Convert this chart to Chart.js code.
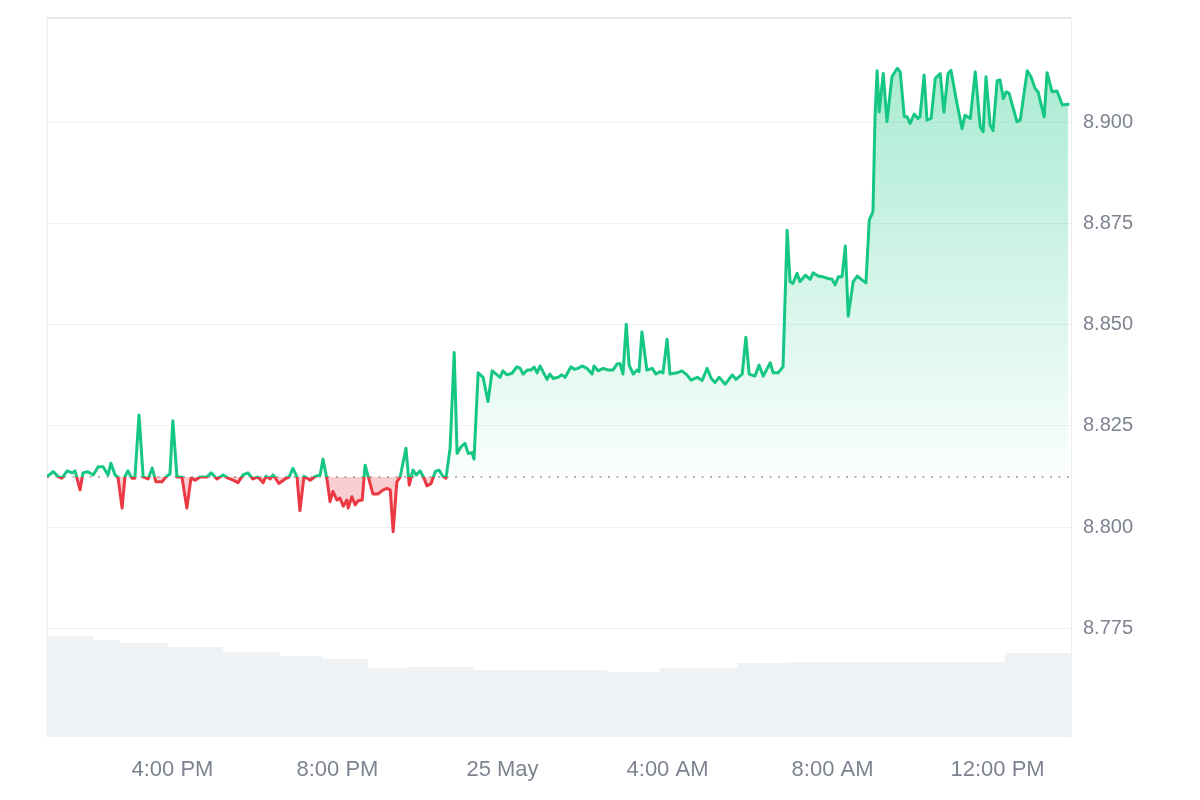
<!DOCTYPE html>
<html>
<head>
<meta charset="utf-8">
<script src="https://cdn.jsdelivr.net/npm/chart.js@4.4.1/dist/chart.umd.min.js"></script>
<style>
  html, body { margin: 0; padding: 0; background: #fff; }
  #wrap { width: 1200px; height: 800px; position: relative; }
</style>
</head>
<body>
<div id="wrap"><canvas id="priceChart"></canvas></div>
<script>
// hours since 24 May 00:00
const times = [
  12.98,13.11,13.23,13.32,13.45,13.57,13.64,13.76,13.83,13.95,14.08,14.20,14.32,14.44,14.51,14.61,14.68,14.78,14.85,14.92,
  15.02,15.09,15.19,15.29,15.41,15.51,15.60,15.75,15.84,15.94,16.01,16.11,16.23,16.35,16.45,16.55,16.67,16.84,16.94,17.08,
  17.23,17.35,17.47,17.59,17.71,17.83,17.95,18.07,18.20,18.27,18.37,18.44,18.58,18.73,18.83,18.92,19.02,19.09,19.19,19.34,
  19.46,19.58,19.65,19.75,19.82,19.89,19.99,20.06,20.14,20.23,20.26,20.35,20.43,20.50,20.60,20.67,20.79,20.86,20.98,21.11,
  21.20,21.28,21.35,21.44,21.52,21.66,21.74,21.83,21.91,22.00,22.08,22.17,22.27,22.37,22.46,22.56,22.63,
  22.73,22.83,22.90,23.00,23.09,23.17,23.26,23.31,23.41,23.53,23.65,23.75,23.87,23.94,24.01,24.11,24.23,24.35,24.43,24.50,
  24.60,24.69,24.77,24.84,24.91,25.08,25.15,25.23,25.35,25.44,25.52,25.66,25.74,25.83,25.93,26.05,26.17,26.22,26.32,26.44,
  26.56,26.68,26.78,26.85,26.92,27.00,27.07,27.17,27.26,27.31,27.38,27.50,27.63,27.72,27.82,27.89,27.99,28.06,28.23,28.35,
  28.47,28.57,28.72,28.84,28.96,29.06,29.15,29.25,29.40,29.57,29.66,29.81,29.90,29.98,30.12,30.22,30.32,30.49,30.56,30.68,30.80,
  30.90,30.97,31.04,31.14,31.21,31.34,31.46,31.53,31.65,31.77,31.89,31.99,32.06,32.14,32.23,32.31,32.38,32.50,32.60,32.72,
  32.81,32.89,32.98,33.03,33.08,33.13,33.23,33.32,33.44,33.57,33.64,33.74,33.81,33.88,33.98,34.07,34.12,34.22,34.29,34.39,
  34.49,34.61,34.70,34.80,34.87,35.02,35.14,35.21,35.34,35.46,35.58,35.65,35.72,35.82,35.89,35.99,36.06,36.14,36.21,36.28,
  36.47,36.55,36.72,36.81,36.91,36.98,37.13,37.20,37.32,37.44,37.57,37.71
];

const prices = [
  8.8126,8.8137,8.8125,8.8121,8.8139,8.8134,8.8139,8.8092,8.8134,8.8137,8.8129,8.8149,8.8149,8.8129,8.8158,8.8129,8.8124,8.8047,8.8125,8.8139,
  8.8121,8.8121,8.8277,8.8124,8.8119,8.8146,8.8112,8.8112,8.8124,8.8131,8.8263,8.8124,8.8124,8.8047,8.8121,8.8116,8.8124,8.8124,8.8134,8.8119,
  8.8129,8.8121,8.8116,8.8110,8.8129,8.8134,8.8119,8.8124,8.8110,8.8126,8.8119,8.8129,8.8108,8.8119,8.8124,8.8145,8.8124,8.8041,8.8126,8.8116,
  8.8125,8.8129,8.8168,8.8116,8.8063,8.8088,8.8067,8.8072,8.8052,8.8067,8.8047,8.8075,8.8055,8.8065,8.8067,8.8153,8.8108,8.8082,8.8082,8.8092,
  8.8096,8.8092,8.7989,8.8112,8.8124,8.8195,8.8104,8.8141,8.8129,8.8139,8.8125,8.8102,8.8108,8.8137,8.8141,8.8125,8.8121,
  8.8195,8.8431,8.8182,8.8199,8.8207,8.8182,8.8184,8.8168,8.8381,8.8370,8.8310,8.8386,8.8376,8.8370,8.8386,8.8376,8.8380,8.8396,8.8392,8.8378,
  8.8388,8.8388,8.8395,8.8381,8.8398,8.8365,8.8378,8.8367,8.8370,8.8376,8.8370,8.8396,8.8390,8.8392,8.8398,8.8392,8.8378,8.8398,8.8386,8.8392,
  8.8388,8.8388,8.8403,8.8404,8.8378,8.8501,8.8400,8.8378,8.8388,8.8384,8.8482,8.8388,8.8392,8.8378,8.8384,8.8381,8.8464,8.8378,8.8381,8.8386,
  8.8376,8.8363,8.8370,8.8362,8.8392,8.8367,8.8357,8.8370,8.8353,8.8376,8.8365,8.8378,8.8469,8.8378,8.8373,8.8400,8.8373,8.8406,8.8381,8.8381,8.8396,
  8.8733,8.8606,8.8602,8.8627,8.8606,8.8622,8.8612,8.8628,8.8620,8.8618,8.8614,8.8612,8.8598,8.8618,8.8618,8.8694,8.8521,8.8606,8.8620,8.8610,
  8.8603,8.8758,8.8779,8.9013,8.9127,8.9025,8.9120,8.9001,8.9112,8.9133,8.9124,8.9013,8.9013,8.8997,8.9020,8.9009,8.9013,8.9116,8.9005,8.9009,
  8.9108,8.9120,8.9025,8.9120,8.9128,8.9044,8.8984,8.9017,8.9009,8.9124,8.8988,8.8976,8.9112,8.8993,8.8979,8.9102,8.9104,8.9058,8.9075,8.9071,
  8.9001,8.9005,8.9127,8.9112,8.9083,8.9075,8.9013,8.9122,8.9075,8.9077,8.9042,8.9044
];

// 24h volume (millions), stepped
const volTimes  = [12.96, 14.08, 14.73, 15.89, 17.23, 18.61, 19.65, 20.74, 21.69, 23.29, 26.54, 27.82, 29.69, 30.97, 36.18, 37.78];
const volValues = [20.2, 19.4, 18.8, 18.0, 17.0, 16.2, 15.6, 13.8, 14.0, 13.4, 13.0, 13.8, 14.8, 15.0, 16.8, 16.8];

const openPrice = 8.8124;
const yTicks = [8.775, 8.800, 8.825, 8.850, 8.875, 8.900];
const xTickHours = [16, 20, 24, 28, 32, 36];
const xTickLabels = ['4:00 PM', '8:00 PM', '25 May', '4:00 AM', '8:00 AM', '12:00 PM'];

const X_MIN = 12.96, X_MAX = 37.78;
const Y_MIN = 8.7482, Y_MAX = 8.9257;

const green = '#16c784';
const red = '#ea3943';
const fontFamily = "'Liberation Sans', Arial, sans-serif";

const framePlugin = {
  id: 'frame',
  beforeDatasetsDraw(chart) {
    const { ctx, chartArea: a } = chart;
    ctx.save();
    ctx.strokeStyle = '#e4e6e9';
    ctx.lineWidth = 2;
    ctx.beginPath();
    ctx.moveTo(a.left, a.top);
    ctx.lineTo(a.right, a.top);
    ctx.stroke();
    ctx.strokeStyle = '#eef0f2';
    ctx.lineWidth = 1.5;
    ctx.beginPath();
    ctx.moveTo(a.left, a.top);
    ctx.lineTo(a.left, a.bottom);
    ctx.stroke();
    ctx.restore();
  }
};

const ctx = document.getElementById('priceChart').getContext('2d');
const chart = new Chart(ctx, {
  type: 'line',
  data: {
    datasets: [
      {
        label: 'Price',
        data: times.map((t, i) => ({ x: t, y: prices[i] })),
        borderColor: green,
        borderWidth: 3,
        pointRadius: 0,
        tension: 0,
        borderJoinStyle: 'round',
        borderCapStyle: 'round',
        fill: false,
        yAxisID: 'y',
        order: 1
      },
      {
        label: 'Open',
        data: [{ x: X_MIN, y: openPrice }, { x: X_MAX, y: openPrice }],
        borderColor: '#9a9a9a',
        borderWidth: 1.5,
        borderDash: [2, 6.5],
        pointRadius: 0,
        fill: false,
        yAxisID: 'y',
        order: 2
      },
      {
        label: 'Volume',
        data: volTimes.map((t, i) => ({ x: t, y: volValues[i] })),
        stepped: 'before',
        borderWidth: 0,
        borderColor: 'rgba(0,0,0,0)',
        backgroundColor: '#eff2f5',
        pointRadius: 0,
        fill: 'origin',
        yAxisID: 'yv',
        order: 3
      }
    ]
  },
  options: {
    responsive: true,
    maintainAspectRatio: false,
    animation: false,
    layout: { padding: { left: 47, top: 18, right: 0, bottom: 0 } },
    plugins: {
      legend: { display: false },
      tooltip: { enabled: false }
    },
    scales: {
      x: {
        type: 'linear',
        min: X_MIN,
        max: X_MAX,
        grid: { display: false, drawTicks: false },
        border: { display: false },
        afterBuildTicks: s => { s.ticks = xTickHours.map(v => ({ value: v })); },
        afterFit: s => { s.height = 63; s.paddingLeft = 0; s.paddingRight = 0; },
        ticks: {
          autoSkip: false,
          maxRotation: 0,
          padding: 20,
          color: '#7d8490',
          font: { family: fontFamily, size: 22 },
          callback: v => xTickLabels[xTickHours.indexOf(v)] || ''
        }
      },
      y: {
        position: 'right',
        min: Y_MIN,
        max: Y_MAX,
        grid: { color: '#f0f1f3', lineWidth: 1, drawTicks: false },
        border: { display: true, color: '#eceef1' },
        afterBuildTicks: s => { s.ticks = yTicks.map(v => ({ value: v })); },
        afterFit: s => { s.width = 129; s.paddingTop = 0; s.paddingBottom = 0; },
        ticks: {
          padding: 12,
          color: '#7d8490',
          font: { family: fontFamily, size: 20 },
          callback: v => v.toFixed(3)
        }
      },
      yv: {
        display: false,
        min: 0,
        max: 143.8
      }
    }
  },
  plugins: [framePlugin]
});

// gradients need the laid-out chart area
const area = chart.chartArea;
const yScale = chart.scales.y;
const baseY = yScale.getPixelForValue(openPrice);
const topY = yScale.getPixelForValue(Math.max(...prices));
const lowY = yScale.getPixelForValue(Math.min(...prices));

const fillUp = ctx.createLinearGradient(0, topY, 0, baseY);
fillUp.addColorStop(0, 'rgba(22,199,132,0.36)');
fillUp.addColorStop(1, 'rgba(22,199,132,0.02)');

const fillDown = ctx.createLinearGradient(0, baseY, 0, lowY);
fillDown.addColorStop(0, 'rgba(234,57,67,0.26)');
fillDown.addColorStop(1, 'rgba(234,57,67,0.20)');

const stroke = ctx.createLinearGradient(0, area.top, 0, area.bottom);
const f = (baseY - area.top) / (area.bottom - area.top);
stroke.addColorStop(0, green);
stroke.addColorStop(f, green);
stroke.addColorStop(Math.min(1, f + 0.0001), red);
stroke.addColorStop(1, red);

const priceSet = chart.data.datasets[0];
priceSet.borderColor = stroke;
priceSet.fill = { target: { value: openPrice }, above: fillUp, below: fillDown };
chart.update('none');
</script>
</body>
</html>
